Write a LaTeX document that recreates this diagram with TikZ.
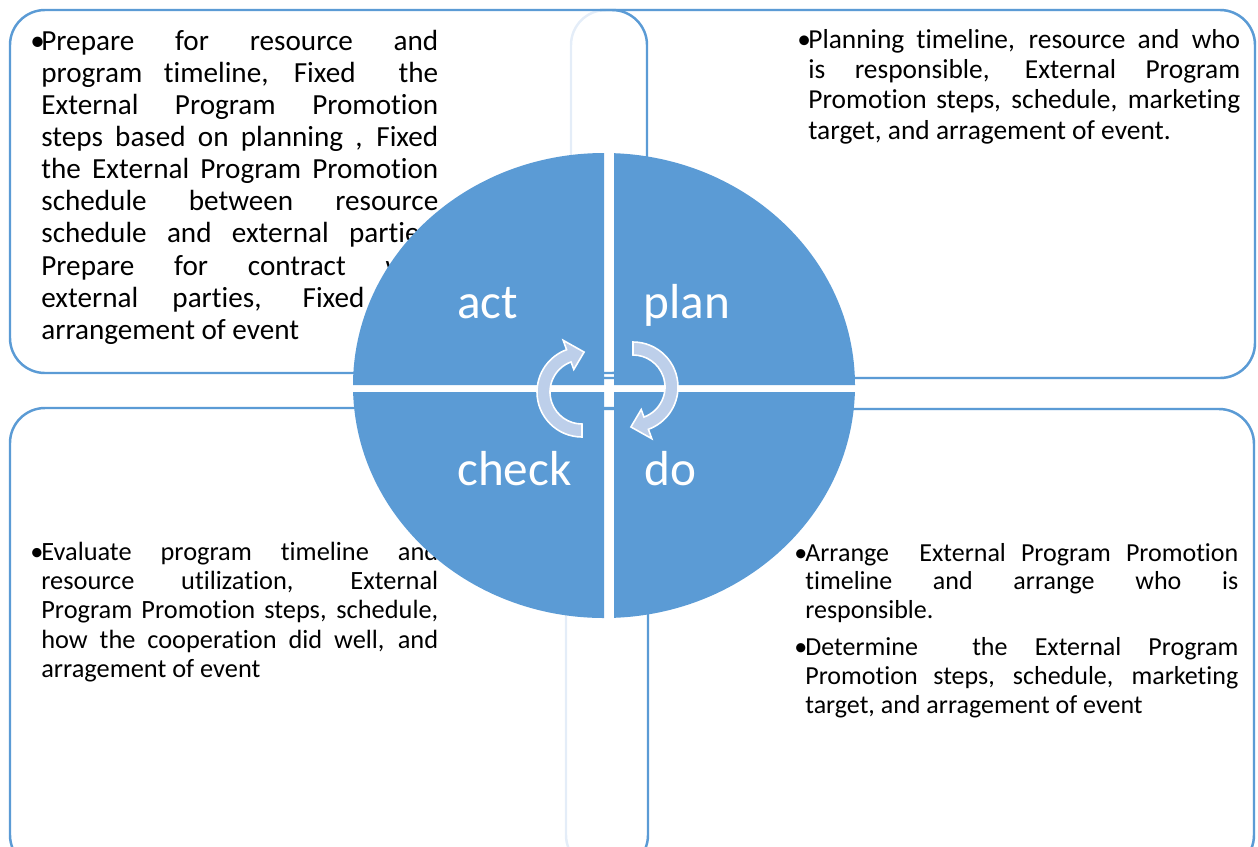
\documentclass[tikz,border=0pt]{standalone}
\usepackage{fontspec}
\setmainfont{Carlito}[Ligatures=CommonOff]

\definecolor{pdcablue}{HTML}{5B9BD5}
\definecolor{pdcafaint}{HTML}{E4EDF8}
\definecolor{pdcaarrow}{HTML}{BDCFEA}

% bullet hanging left of the text column
\newcommand{\bul}{\leavevmode\llap{\makebox[6.2pt][l]{•}}}
\tolerance=10000
\hbadness=10000

\begin{document}
\begin{tikzpicture}[
    x=0.02cm, y=-0.02cm,
    box line/.style={draw=pdcablue, line width=1.4pt, rounded corners=0.7cm},
    faint line/.style={draw=pdcafaint, line width=1.4pt, rounded corners=0.7cm},
    note/.style={anchor=base west, inner sep=0pt, align=justify, text=black},
    phase/.style={anchor=base west, inner sep=0pt, text=white, font=\fontsize{28}{34}\selectfont},
    turn arrow/.style={fill=pdcaarrow, draw=white, line width=0.9pt, line join=miter}
]
\useasboundingbox (0,0) rectangle (1258,846);
\clip (0,0) rectangle (1258,846);

% Boxes
\draw[faint line] (571,10) rectangle (1255,378);
\draw[faint line] (566,409) rectangle (1254,870);
\draw[box line] (600,10) -- (1255,10) -- (1255,378) -- (600,378);
\draw[box line] (600,409) -- (1254,409) -- (1254,870) -- (600,870);
\draw[box line] (10,10) rectangle (647,373);
\draw[box line] (10,408) rectangle (648,870);

% Notes
\node[note, text width=7.94cm, font=\fontsize{16.6}{18.3}\selectfont] (actnote) at (41,50)
  {\bul Prepare for resource and\linebreak
   program timeline, Fixed\ \ the\linebreak
   External Program Promotion\linebreak
   steps based on planning , Fixed\linebreak
   the External Program Promotion\linebreak
   schedule between resource\linebreak
   schedule and external parties,\linebreak
   Prepare for contract with\linebreak
   external parties, Fixed the\linebreak
   arrangement of event};

\node[note, text width=8.64cm, font=\fontsize{15.6}{17.3}\selectfont] (plannote) at (808,48)
  {\bul Planning timeline, resource and who\linebreak
   is responsible, External Program\linebreak
   Promotion steps, schedule, marketing\linebreak
   target, and arragement of event.};

\node[note, text width=7.94cm, font=\fontsize{15}{16.7}\selectfont] (checknote) at (41,560)
  {\bul Evaluate program timeline and\linebreak
   resource utilization, External\linebreak
   Program Promotion steps, schedule,\linebreak
   how the cooperation did well, and\linebreak
   arragement of event};

\node[note, text width=8.66cm, font=\fontsize{14.8}{16.5}\selectfont] (donote) at (805,561)
  {\bul Arrange\ \ External Program Promotion\linebreak
   timeline and arrange who is\linebreak
   responsible.\par\vspace{4.2pt}
   \bul Determine\ \ the External Program\linebreak
   Promotion steps, schedule, marketing\linebreak
   target, and arragement of event};

% PDCA wheel
\begin{scope}
  \clip (300,100) rectangle (604,385) (614,100) rectangle (900,385)
        (300,392) rectangle (604,680) (614,392) rectangle (900,680);
  \fill[pdcablue] (604,385.5) ellipse [x radius=251, y radius=232.5];
\end{scope}

\node[phase] (act) at (457,318) {act};
\node[phase] (plan) at (643,318) {plan};
\node[phase] (check) at (457,485) {check};
\node[phase] (do) at (644,485) {do};

% Cycle arrows
\filldraw[turn arrow, shift={(582,392)}]
  (90:45) arc[start angle=90, end angle=250, radius=45]
  -- (250:55) -- (273:40) -- (250:24) -- (250:32)
  arc[start angle=250, end angle=90, radius=32] -- cycle;
\filldraw[turn arrow, shift={(633,387)}, rotate=180]
  (90:45) arc[start angle=90, end angle=250, radius=45]
  -- (250:55) -- (273:40) -- (250:24) -- (250:32)
  arc[start angle=250, end angle=90, radius=32] -- cycle;

\end{tikzpicture}
\end{document}
